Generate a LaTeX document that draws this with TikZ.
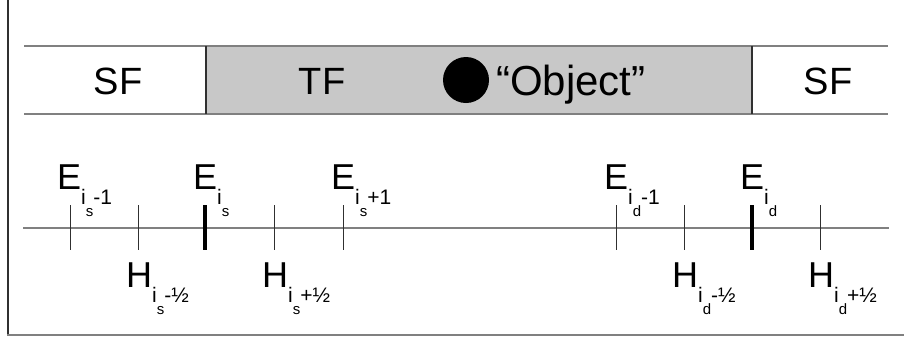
\documentclass[tikz,border=0pt]{standalone}
\usepackage{fontspec}
\setmainfont{Liberation Sans}
\definecolor{tfgray}{HTML}{C8C8C8}
\definecolor{linegray}{HTML}{808080}
\definecolor{darkline}{HTML}{303030}
% grid label: main letter, index letter, index subscript, offset
\newcommand\gridlab[4]{{\fontsize{36}{36}\selectfont #1}\raisebox{-15pt}{\fontsize{21}{21}\selectfont #2\raisebox{-12pt}{\fontsize{15}{15}\selectfont #3}#4}}
\begin{document}
\begin{tikzpicture}[x=1pt,y=-1pt,
  barline/.style={linegray,line width=2pt},
  divider/.style={darkline,line width=2pt},
  thintick/.style={darkline,line width=1pt},
  thicktick/.style={black,line width=4pt},
  bartext/.style={font=\fontsize{38}{38}\selectfont,anchor=base,inner sep=0pt},
  gridtext/.style={anchor=base west,inner sep=0pt}]
\useasboundingbox (0,0) rectangle (904,341);
% outer frame (left and bottom edges)
\draw[darkline,line width=2pt] (8,0) -- (8,335);
\draw[linegray,line width=2.5pt] (7,335) -- (904,335);
% region bar
\fill[tfgray] (206,46) rectangle (752,114);
\draw[barline] (24,46) -- (888,46);
\draw[barline] (24,114) -- (888,114);
\draw[divider] (206,46) -- (206,114);
\draw[divider] (752,46) -- (752,114);
\node[bartext] (sfl) at (118,94) {SF};
\node[bartext] (tf) at (322,94) {TF};
\node[circle,fill=black,minimum size=46pt,inner sep=0pt] (obj) at (466,80) {};
\node[bartext,anchor=base west,font=\fontsize{42}{42}\selectfont] (objtxt) at (496,95) {“Object”};
\node[bartext] (sfr) at (828,94) {SF};
% grid axis
\draw[barline] (23,228) -- (889,228);
% ticks
\foreach \x in {70,138,274,343,616,684,820}
  \draw[thintick] (\x,205) -- (\x,250);
\draw[thicktick] (205,205) -- (205,250);
\draw[thicktick] (752,205) -- (752,250);
% labels
\node[gridtext] (e1) at (57,189) {\gridlab{E}{i}{s}{-1}};
\node[gridtext] (e2) at (193,189) {\gridlab{E}{i}{s}{}};
\node[gridtext] (e3) at (331,189) {\gridlab{E}{i}{s}{+1}};
\node[gridtext] (e4) at (604,189) {\gridlab{E}{i}{d}{-1}};
\node[gridtext] (e5) at (740,189) {\gridlab{E}{i}{d}{}};
\node[gridtext] (h1) at (126,287) {\gridlab{H}{i}{s}{-½}};
\node[gridtext] (h2) at (262,287) {\gridlab{H}{i}{s}{+½}};
\node[gridtext] (h3) at (672,287) {\gridlab{H}{i}{d}{-½}};
\node[gridtext] (h4) at (808,287) {\gridlab{H}{i}{d}{+½}};
\end{tikzpicture}
\end{document}
